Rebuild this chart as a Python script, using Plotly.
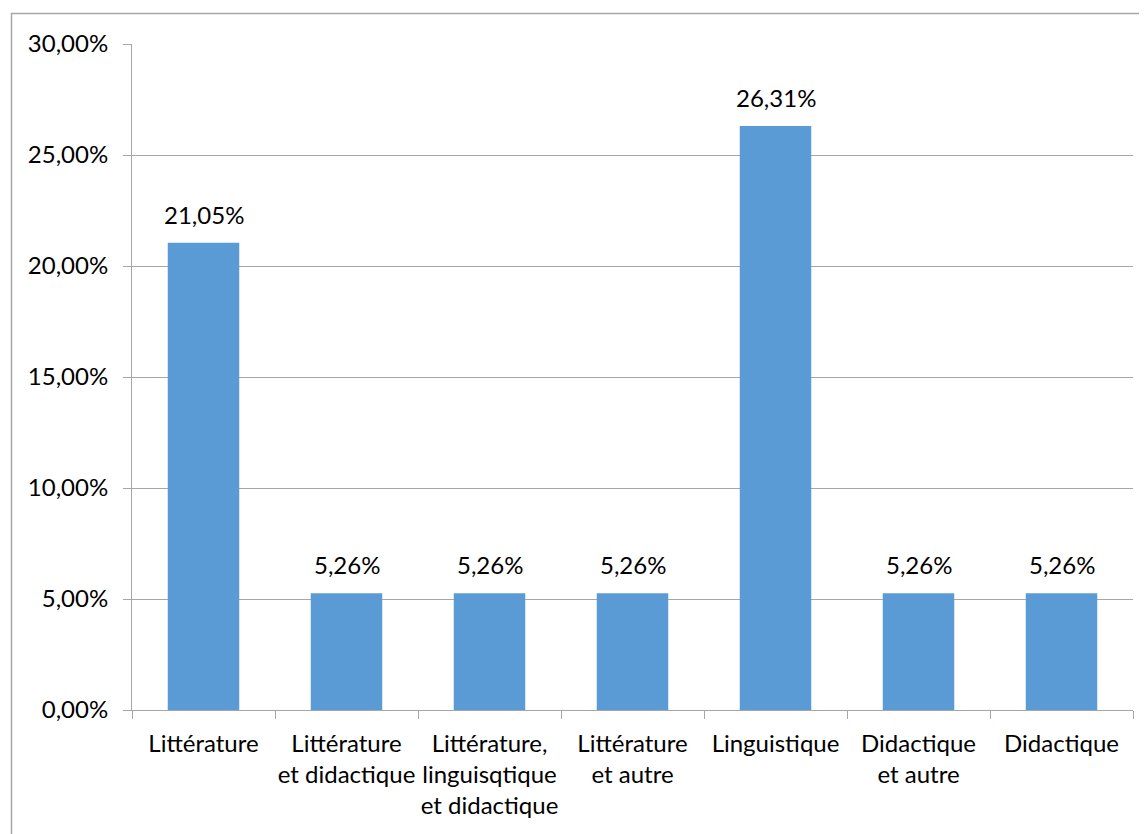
import plotly.graph_objects as go

categories = [
    "Littérature",
    "Littérature<br>et didactique",
    "Littérature,<br>linguisqtique<br>et didactique",
    "Littérature<br>et autre",
    "Linguistique",
    "Didactique<br>et autre",
    "Didactique",
]
values = [0.2105, 0.0526, 0.0526, 0.0526, 0.2631, 0.0526, 0.0526]
y_ticks = [0, 0.05, 0.10, 0.15, 0.20, 0.25, 0.30]

FONT = "Lato, Open Sans, sans-serif"
GRID = "#a6a6a6"
FS = 24

# page body has an 8px margin -> figure starts at (8, 8) in the window
W, H = 1139, 826
L, T, R, B = 124, 36, 14, 124
PW, PH = W - L - R, H - T - B

fig = go.Figure(
    go.Bar(
        x=categories,
        y=values,
        marker=dict(color="#5b9bd5", line=dict(width=0)),
        hoverinfo="x+y",
    )
)

for c, v in zip(categories, values):
    fig.add_annotation(
        x=c, y=v, xref="x", yref="y",
        text=f"{v * 100:.2f}%".replace(".", ","),
        showarrow=False,
        yanchor="bottom",
        yshift=12,
        font=dict(size=FS, family=FONT, color="#000000"),
    )

fig.update_layout(
    width=W,
    height=H,
    margin=dict(l=L, r=R, t=T, b=B, autoexpand=False),
    paper_bgcolor="white",
    plot_bgcolor="white",
    separators=", ",
    bargap=0.5,
    showlegend=False,
    font=dict(family=FONT, size=FS, color="#000000"),
)

fig.update_yaxes(
    range=[0, 0.30],
    tickvals=y_ticks,
    tickformat=".2%",
    showgrid=True,
    gridcolor=GRID,
    gridwidth=1,
    showline=True,
    linecolor=GRID,
    linewidth=1,
    ticks="outside",
    ticklen=8,
    tickcolor=GRID,
    ticklabelstandoff=10,
    tickfont=dict(size=FS, family=FONT),
    zeroline=False,
    automargin=False,
)

fig.update_xaxes(
    showline=True,
    linecolor=GRID,
    linewidth=1,
    ticks="outside",
    tickson="boundaries",
    ticklen=8,
    tickcolor=GRID,
    tickangle=0,
    ticklabelstandoff=12,
    tickfont=dict(size=FS, family=FONT),
    showgrid=False,
    automargin=False,
)

# outer chart border (extends beyond the captured image on right and bottom)
fig.add_shape(
    type="rect",
    xref="paper", yref="paper",
    x0=(11.5 - 8 - L) / PW, x1=1.2,
    y0=-0.5, y1=1 + (T - (13.5 - 8)) / PH,
    line=dict(color="#a6a6a6", width=1.5),
    fillcolor="rgba(0,0,0,0)",
    layer="below",
)

fig.write_html("out.html")
